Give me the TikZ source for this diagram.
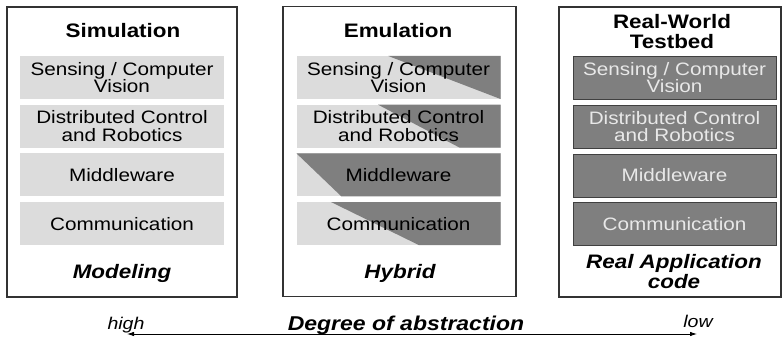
\documentclass[tikz,border=0pt]{standalone}
\usepackage{fontspec}
\setmainfont{Liberation Sans}[FakeStretch=1.15]
\usetikzlibrary{calc,positioning,arrows.meta}
\definecolor{LightLayer}{HTML}{DCDCDC}
\definecolor{DarkLayer}{HTML}{7F7F7F}
\definecolor{PaleText}{HTML}{E8E8E8}
\definecolor{FrameLine}{HTML}{333333}

\tikzset{
  column/.style={draw=FrameLine, line width=1.2pt, minimum width=#1,
    minimum height=290pt, inner sep=0pt},
  layerbox/.style={minimum width=204pt, minimum height=43pt, inner sep=0pt,
    align=center, font=\fontsize{18}{17.5}\selectfont},
  simlayer/.style={layerbox, fill=LightLayer},
  reallayer/.style={layerbox, minimum width=203pt, fill=DarkLayer,
    draw=black!75, line width=0.6pt, text=PaleText},
  emulayer/.style 2 args={layerbox, fill=LightLayer, path picture={
      \fill[DarkLayer]
        ($(path picture bounding box.north west)!#1!(path picture bounding box.north east)$)
        -- (path picture bounding box.north east)
        -- (path picture bounding box.south east)
        -- ($(path picture bounding box.south west)!#2!(path picture bounding box.south east)$)
        -- cycle;}},
  heading/.style={font=\fontsize{19.5}{20}\selectfont\bfseries, align=center},
  footing/.style={font=\fontsize{19.5}{20}\selectfont\bfseries\itshape, align=center},
  scalelabel/.style={anchor=base, font=\fontsize{17}{17}\selectfont\itshape}
}

\begin{document}
\begin{tikzpicture}[x=1pt, y=-1pt, node distance=5.3pt]
  \useasboundingbox (0,0) rectangle (782,337);

  % the three columns
  \node[column=230pt] (simcol) at (122,152) {};
  \node[column=233pt] (emucol) at (399.5,151.5) {};
  \node[column=222pt] (realcol) at (670,152) {};

  % simulation
  \node[heading] (simtitle) at (123,31) {Simulation};
  \node[simlayer] (simsense) at (122,77.5) {Sensing / Computer\\Vision};
  \node[simlayer, below=of simsense] (simctrl) {Distributed Control\\and Robotics};
  \node[simlayer, below=of simctrl] (simmid) {Middleware};
  \node[simlayer, below=of simmid] (simcomm) {Communication};
  \node[footing] (simfoot) at (122,273) {Modeling};

  % emulation
  \node[heading] (emutitle) at (398,31) {Emulation};
  \node[emulayer={0.45}{1.0}] (emusense) at (398.5,77.5) {Sensing / Computer\\Vision};
  \node[emulayer={0.40}{0.80}, below=of emusense] (emuctrl) {Distributed Control\\and Robotics};
  \node[emulayer={0.0}{0.22}, below=of emuctrl] (emumid) {Middleware};
  \node[emulayer={0.17}{0.60}, below=of emumid] (emucomm) {Communication};
  \node[footing] (emufoot) at (400,273) {Hybrid};

  % real-world testbed
  \node[heading] (realtitle) at (672,32) {Real-World\\Testbed};
  \node[reallayer] (realsense) at (674.5,77.5) {Sensing / Computer\\Vision};
  \node[reallayer, below=of realsense] (realctrl) {Distributed Control\\and Robotics};
  \node[reallayer, below=of realctrl] (realmid) {Middleware};
  \node[reallayer, below=of realmid] (realcomm) {Communication};
  \node[footing] (realfoot) at (674,272) {Real Application\\code};

  % abstraction scale
  \coordinate (highend) at (127,334);
  \coordinate (lowend) at (697,334);
  \draw[{Latex[length=7pt,width=4.5pt]}-{Latex[length=7pt,width=4.5pt]}, line width=0.8pt]
    (highend) -- (lowend);
  \node[scalelabel] (highlbl) at (126,329) {high};
  \node[scalelabel] (lowlbl) at (698,327) {low};
  \node[anchor=base, font=\fontsize{20}{20}\selectfont\bfseries\itshape] (abslbl) at (406,330) {Degree of abstraction};
\end{tikzpicture}
\end{document}
